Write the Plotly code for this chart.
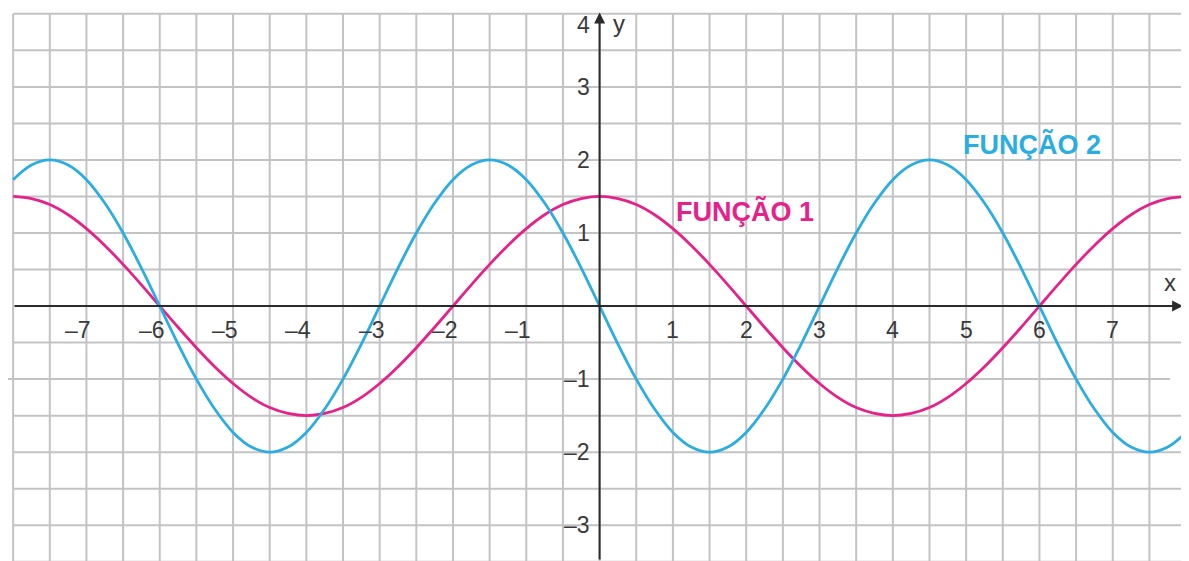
import plotly.graph_objects as go

# sample points (quarter grid steps)
x_vals = [-8, -7.75, -7.5, -7.25, -7, -6.75, -6.5, -6.25, -6, -5.75, -5.5, -5.25, -5, -4.75, -4.5, -4.25,
          -4, -3.75, -3.5, -3.25, -3, -2.75, -2.5, -2.25, -2, -1.75, -1.5, -1.25, -1, -0.75, -0.5, -0.25,
          0, 0.25, 0.5, 0.75, 1, 1.25, 1.5, 1.75, 2, 2.25, 2.5, 2.75, 3, 3.25, 3.5, 3.75,
          4, 4.25, 4.5, 4.75, 5, 5.25, 5.5, 5.75, 6, 6.25, 6.5, 6.75, 7, 7.25, 7.5, 7.75, 8]
funcao1 = [1.5, 1.47, 1.39, 1.25, 1.06, 0.83, 0.57, 0.29, 0, -0.29, -0.57, -0.83, -1.06, -1.25, -1.39, -1.47,
           -1.5, -1.47, -1.39, -1.25, -1.06, -0.83, -0.57, -0.29, 0, 0.29, 0.57, 0.83, 1.06, 1.25, 1.39, 1.47,
           1.5, 1.47, 1.39, 1.25, 1.06, 0.83, 0.57, 0.29, 0, -0.29, -0.57, -0.83, -1.06, -1.25, -1.39, -1.47,
           -1.5, -1.47, -1.39, -1.25, -1.06, -0.83, -0.57, -0.29, 0, 0.29, 0.57, 0.83, 1.06, 1.25, 1.39, 1.47, 1.5]
funcao2 = [1.73, 1.93, 2, 1.93, 1.73, 1.41, 1, 0.52, 0, -0.52, -1, -1.41, -1.73, -1.93, -2, -1.93,
           -1.73, -1.41, -1, -0.52, 0, 0.52, 1, 1.41, 1.73, 1.93, 2, 1.93, 1.73, 1.41, 1, 0.52,
           0, -0.52, -1, -1.41, -1.73, -1.93, -2, -1.93, -1.73, -1.41, -1, -0.52, 0, 0.52, 1, 1.41,
           1.73, 1.93, 2, 1.93, 1.73, 1.41, 1, 0.52, 0, -0.52, -1, -1.41, -1.73, -1.93, -2, -1.93, -1.73]

x_ticks = [-7, -6, -5, -4, -3, -2, -1, 1, 2, 3, 4, 5, 6, 7]
y_ticks = [-3, -2, -1, 1, 2, 3, 4]

PINK = '#e6228a'
BLUE = '#2aade3'
GRID = '#c3c3c5'
AXIS = '#2b2b2b'
TXT = '#3a3a3a'

# page has an 8px body margin, so the figure is a bit smaller than the window
X_MIN, X_MAX = -8.07, 8.04
Y_MIN, Y_MAX = -3.49, 4.08

fig = go.Figure()

fig.add_trace(go.Scatter(x=x_vals, y=funcao1, mode='lines', line=dict(color=PINK, width=2.8, shape='spline'),
                         showlegend=False, hoverinfo='skip'))
fig.add_trace(go.Scatter(x=x_vals, y=funcao2, mode='lines', line=dict(color=BLUE, width=2.8, shape='spline'),
                         showlegend=False, hoverinfo='skip'))

shapes = []
# squared paper
for i in range(33):
    gx = -8 + i * 0.5
    shapes.append(dict(type='line', x0=gx, x1=gx, y0=4, y1=Y_MIN, layer='below',
                       line=dict(color=GRID, width=2)))
for i in range(16):
    gy = 4 - i * 0.5
    if gy == -1:
        shapes.append(dict(type='line', x0=X_MIN, x1=7.78, y0=gy, y1=gy, layer='below',
                           line=dict(color=GRID, width=2)))
    else:
        shapes.append(dict(type='line', x0=-8, x1=X_MAX, y0=gy, y1=gy, layer='below',
                           line=dict(color=GRID, width=2)))

annotations = []
# axes with arrow heads
annotations.append(dict(x=7.96, y=0, ax=-8, ay=0, xref='x', yref='y', axref='x', ayref='y',
                        showarrow=True, arrowhead=2, arrowsize=1.1, arrowwidth=2, arrowcolor=AXIS, text=''))
annotations.append(dict(x=0, y=4.02, ax=0, ay=Y_MIN, xref='x', yref='y', axref='x', ayref='y',
                        showarrow=True, arrowhead=2, arrowsize=1.1, arrowwidth=2, arrowcolor=AXIS, text=''))

tick_font = dict(family='Liberation Sans Narrow, Liberation Sans, Arial', size=23, color=TXT)
for t in x_ticks:
    if t < 0:
        annotations.append(dict(x=t, y=0, text='–' + str(-t), showarrow=False, xanchor='right',
                                yanchor='middle', xshift=7, yshift=-24, font=tick_font))
    else:
        annotations.append(dict(x=t, y=0, text=str(t), showarrow=False, xanchor='center',
                                yanchor='middle', yshift=-24, font=tick_font))
for t in y_ticks:
    label = '–' + str(-t) if t < 0 else str(t)
    annotations.append(dict(x=0, y=t - 0.15 if t == 4 else t, text=label, showarrow=False,
                            xanchor='right', yanchor='middle', xshift=-8, font=tick_font))

annotations.append(dict(x=7.78, y=0.32, text='x', showarrow=False, font=dict(family='Liberation Sans', size=24, color=TXT)))
annotations.append(dict(x=0.27, y=1, yref='paper', yanchor='top', text='y', showarrow=False,
                        font=dict(family='Liberation Sans', size=24, color=TXT)))

annotations.append(dict(x=1.99, y=1.3, text='<b>FUNÇÃO 1</b>', showarrow=False,
                        font=dict(family='Liberation Sans', size=27, color=PINK)))
annotations.append(dict(x=5.9, y=2.21, text='<b>FUNÇÃO 2</b>', showarrow=False,
                        font=dict(family='Liberation Sans', size=27, color=BLUE)))

fig.update_layout(
    width=1181, height=553,
    margin=dict(l=0, r=0, t=0, b=0),
    paper_bgcolor='white', plot_bgcolor='white',
    xaxis=dict(range=[X_MIN, X_MAX], visible=False, fixedrange=True),
    yaxis=dict(range=[Y_MIN, Y_MAX], visible=False, fixedrange=True),
    shapes=shapes,
    annotations=annotations,
)

fig.write_html('out.html')
